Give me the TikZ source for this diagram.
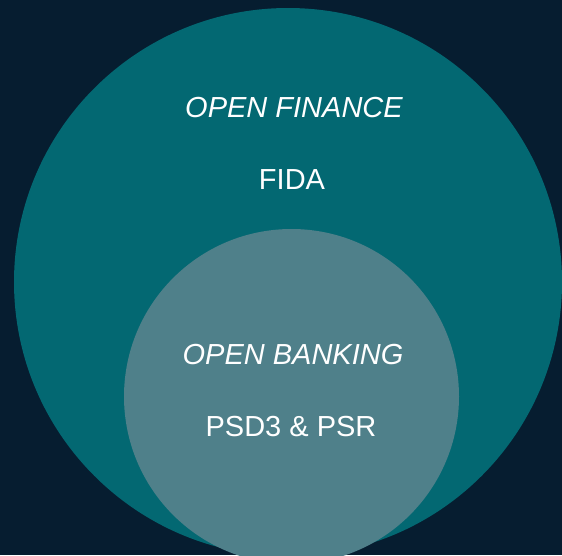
\documentclass[tikz,border=0pt]{standalone}
\usepackage{fontspec}
\setmainfont{Liberation Sans}
\definecolor{navybg}{RGB}{6,29,48}
\definecolor{tealbig}{RGB}{3,104,114}
\definecolor{tealsmall}{RGB}{79,128,138}
\begin{document}
\begin{tikzpicture}[x=1pt,y=-1pt]
\tikzset{lbl/.style={text=white, anchor=base, inner sep=0, font=\fontsize{29}{29}\selectfont}}
\useasboundingbox (0,0) rectangle (562,555);
\clip (0,0) rectangle (562,555);
\fill[navybg] (0,0) rectangle (562,555);
\node[circle, fill=tealbig, inner sep=0, minimum size=548pt] (finance) at (288,282){};
\node[circle, fill=tealsmall, inner sep=0, minimum size=335pt] (banking) at (291.5,396.5){};
\node[lbl, font=\fontsize{29}{29}\selectfont\itshape] (ofin) at (294,117){OPEN FINANCE};
\node[lbl] (fida) at (292,189){FIDA};
\node[lbl, font=\fontsize{29}{29}\selectfont\itshape] (oban) at (293,364){OPEN BANKING};
\node[lbl] (psd) at (291,436){PSD3 \& PSR};

\end{tikzpicture}
\end{document}
